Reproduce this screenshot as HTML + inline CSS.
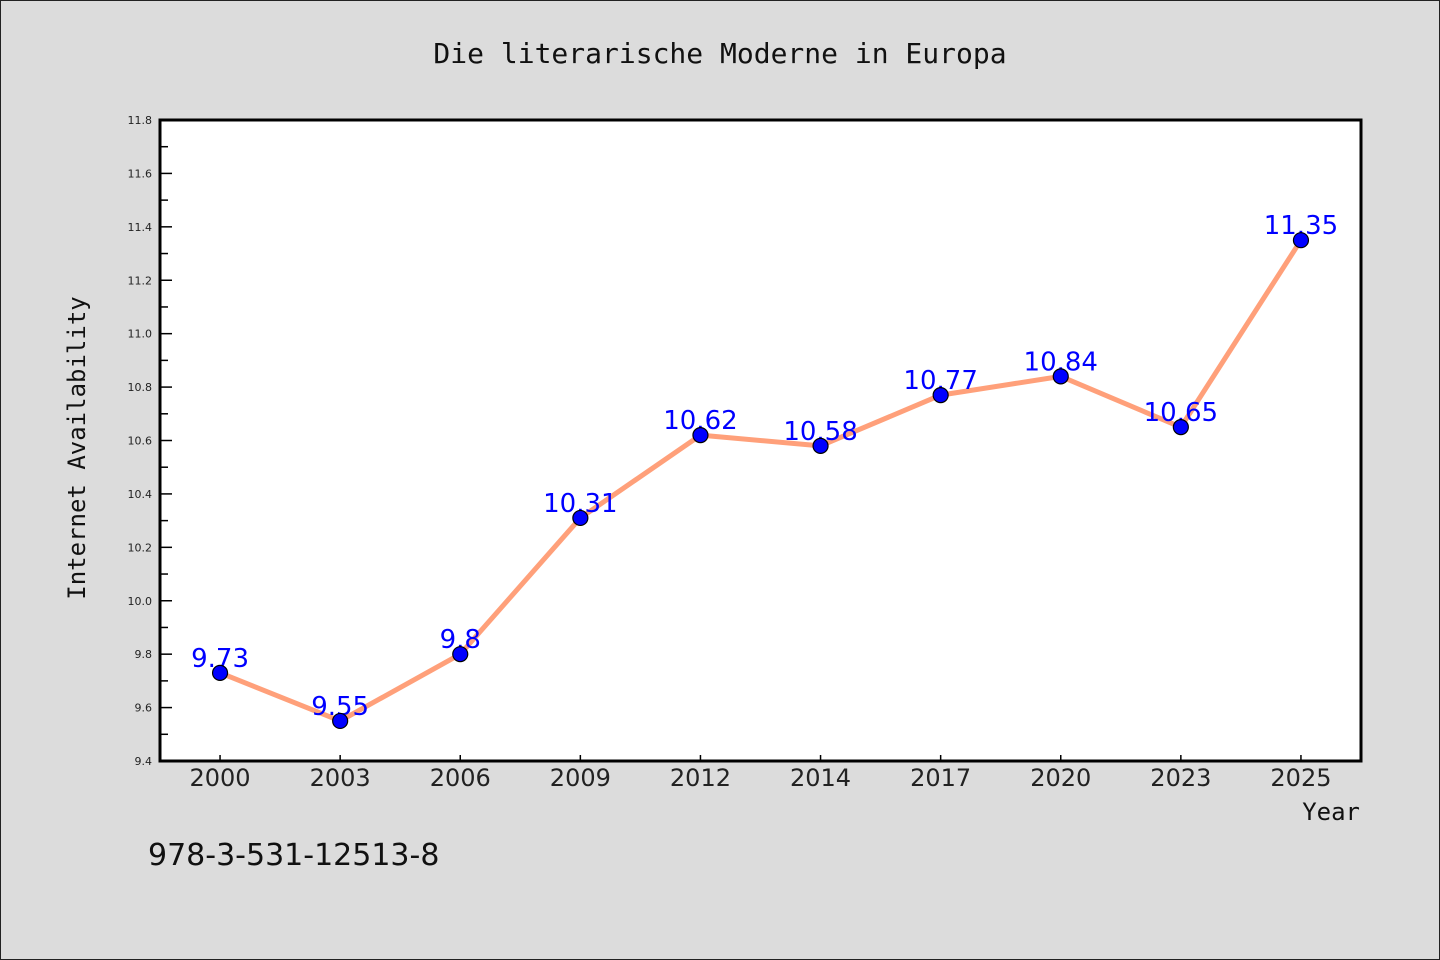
<!DOCTYPE html>
<html><head><meta charset="utf-8"><style>
body{margin:0;background:#dcdcdc}
svg{display:block}
</style></head><body>
<svg id="chart" width="1440" height="960" xmlns="http://www.w3.org/2000/svg" font-family="DejaVu Sans, Liberation Sans, sans-serif">
<rect x="0.5" y="0.5" width="1439" height="959" fill="#dcdcdc" stroke="#222" stroke-width="1"/>
<text x="720" y="63" text-anchor="middle" font-size="28" font-family="DejaVu Sans Mono, Liberation Mono, monospace" fill="#111">Die literarische Moderne in Europa</text>
<rect x="160" y="120" width="1201" height="641" fill="#fff"/>
<g id="axes"></g>
<g id="series"></g>
<rect x="160" y="120" width="1201" height="641" fill="none" stroke="#000" stroke-width="3"/>
<text transform="translate(85,448) rotate(-90)" text-anchor="middle" font-size="24" font-family="DejaVu Sans Mono, Liberation Mono, monospace" fill="#111">Internet Availability</text>
<text x="1360" y="820" text-anchor="end" font-size="24" font-family="DejaVu Sans Mono, Liberation Mono, monospace" fill="#111">Year</text>
<text x="148" y="865" font-size="30" fill="#111">978-3-531-12513-8</text>
</svg>
<script>
const categories = ["2000","2003","2006","2009","2012","2014","2017","2020","2023","2025"];
const values = [9.73,9.55,9.8,10.31,10.62,10.58,10.77,10.84,10.65,11.35];
const valueLabels = ["9.73","9.55","9.8","10.31","10.62","10.58","10.77","10.84","10.65","11.35"];
const yTicks = ["9.4","9.6","9.8","10.0","10.2","10.4","10.6","10.8","11.0","11.2","11.4","11.6","11.8"];
const yMin = 9.4, yMax = 11.8;
const L=160,T=120,W=1201,H=641;
const NS="http://www.w3.org/2000/svg";
function y(v){return T+H-(v-yMin)/(yMax-yMin)*H;}
function x(i){return L+W/categories.length*(i+0.5);}
function mk(tag,attrs,parent,text){const e=document.createElementNS(NS,tag);for(const k in attrs)e.setAttribute(k,attrs[k]);if(text!==undefined)e.textContent=text;parent.appendChild(e);return e;}
const axes=document.getElementById('axes'), series=document.getElementById('series');
yTicks.forEach((t,i)=>{
  const v=parseFloat(t), yy=y(v);
  const tk=mk('line',{x1:L,x2:L+12,y1:yy,y2:yy,stroke:'#000','stroke-width':1.5},axes);
  
  
  const lb=mk('text',{x:L-8,y:yy+4,'text-anchor':'end','font-size':11,fill:'#222'},axes,t);
  
  
  if(i<yTicks.length-1){
    const ym=y(v+0.1);
    const mt=mk('line',{x1:L,x2:L+8,y1:ym,y2:ym,stroke:'#000','stroke-width':1.5},axes);
    
    
  }
});
categories.forEach((c,i)=>{
  const xx=x(i);
  const tk=mk('line',{x1:xx,x2:xx,y1:T+H,y2:T+H-6,stroke:'#000','stroke-width':1.5},axes);
  
  
  const lb=mk('text',{x:xx,y:T+H+25,'text-anchor':'middle','font-size':24,fill:'#222'},axes,c);
  
  
});
const pts=values.map((v,i)=>x(i)+','+y(v)).join(' ');
const line=mk('polyline',{points:pts,fill:'none',stroke:'#ffa07a','stroke-width':5,'stroke-linejoin':'round'},series);


values.forEach((v,i)=>{
  const lb=mk('text',{x:x(i),y:y(v)-6,'text-anchor':'middle','font-size':26,fill:'#0000ff'},series,valueLabels[i]);
  
  
});
values.forEach((v,i)=>{
  const c=mk('circle',{cx:x(i),cy:y(v),r:7.5,fill:'#0000ff',stroke:'#000','stroke-width':1.2},series);
  
  
});
</script>
</body></html>
